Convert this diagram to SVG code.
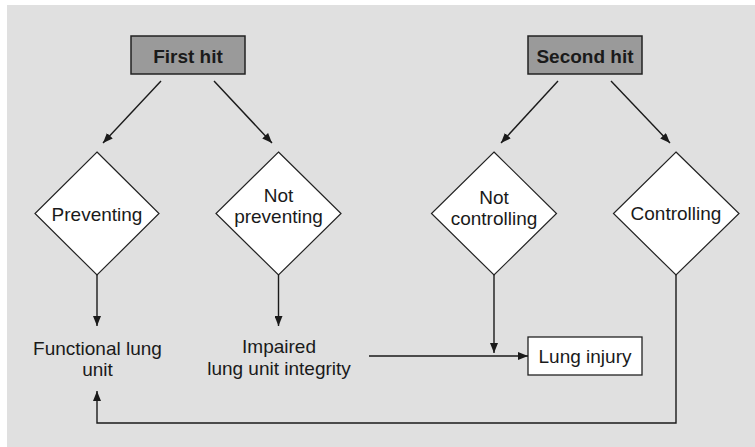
<svg xmlns="http://www.w3.org/2000/svg" width="755" height="447" viewBox="0 0 755 447">
<style>
.t{font-family:"Liberation Sans",Arial,sans-serif;font-size:19px;fill:#1a1a1a;text-anchor:middle}
.b{font-weight:bold}
.hit{fill:#9a9a9a;stroke:#222;stroke-width:1.5}
.dia{fill:#fff;stroke:#222;stroke-width:1.2}
.box{fill:#fff;stroke:#222;stroke-width:1.3}
.c{fill:none;stroke:#1a1a1a;stroke-width:1.4}
</style>
<defs>
<marker id="ah" viewBox="0 0 10 8" refX="10" refY="4" markerWidth="10" markerHeight="8" markerUnits="userSpaceOnUse" orient="auto">
<path d="M0,0 L10,4 L0,8 Z" fill="#1a1a1a"/>
</marker>
</defs>
<rect x="7" y="5" width="748" height="442" fill="#e0e0e0"/>
<g id="first-hit"><rect class="hit" x="131" y="36" width="114" height="38"/><text class="t b" x="188" y="62.5">First hit</text></g>
<g id="second-hit"><rect class="hit" x="528" y="36" width="114" height="38"/><text class="t b" x="585" y="62.5">Second hit</text></g>
<g id="preventing"><polygon class="dia" points="97,152 159,213.5 97,275 35,213.5"/><text class="t" x="97" y="220.5">Preventing</text></g>
<g id="not-preventing"><polygon class="dia" points="278.5,152 341,213.5 278.5,275 216,213.5"/><text class="t" x="278.5" y="201.5">Not</text><text class="t" x="278.5" y="222.5">preventing</text></g>
<g id="not-controlling"><polygon class="dia" points="494,152 556.5,213.5 494,275 431.5,213.5"/><text class="t" x="494" y="204">Not</text><text class="t" x="494" y="225">controlling</text></g>
<g id="controlling"><polygon class="dia" points="676,152 739,213.5 676,275 613.5,213.5"/><text class="t" x="676" y="220">Controlling</text></g>
<g id="functional"><text class="t" x="97.5" y="355">Functional lung</text><text class="t" x="97.5" y="376">unit</text></g>
<g id="impaired"><text class="t" x="279" y="353">Impaired</text><text class="t" x="279" y="375">lung unit integrity</text></g>
<g id="lung-injury"><rect class="box" x="528" y="337" width="114" height="38"/><text class="t" x="585" y="363">Lung injury</text></g>
<g id="connectors">
<line class="c" x1="161" y1="81" x2="103" y2="143" marker-end="url(#ah)"/>
<line class="c" x1="214" y1="81" x2="272" y2="143" marker-end="url(#ah)"/>
<line class="c" x1="558" y1="81" x2="501" y2="143" marker-end="url(#ah)"/>
<line class="c" x1="611" y1="81" x2="670" y2="143" marker-end="url(#ah)"/>
<line class="c" x1="97" y1="275" x2="97" y2="326" marker-end="url(#ah)"/>
<line class="c" x1="278.5" y1="275" x2="278.5" y2="326" marker-end="url(#ah)"/>
<line class="c" x1="494" y1="275" x2="494" y2="353" marker-end="url(#ah)"/>
<line class="c" x1="369" y1="356" x2="528" y2="356" marker-end="url(#ah)"/>
<polyline class="c" points="676,275 676,423 97,423 97,391" marker-end="url(#ah)"/>
</g>
</svg>
